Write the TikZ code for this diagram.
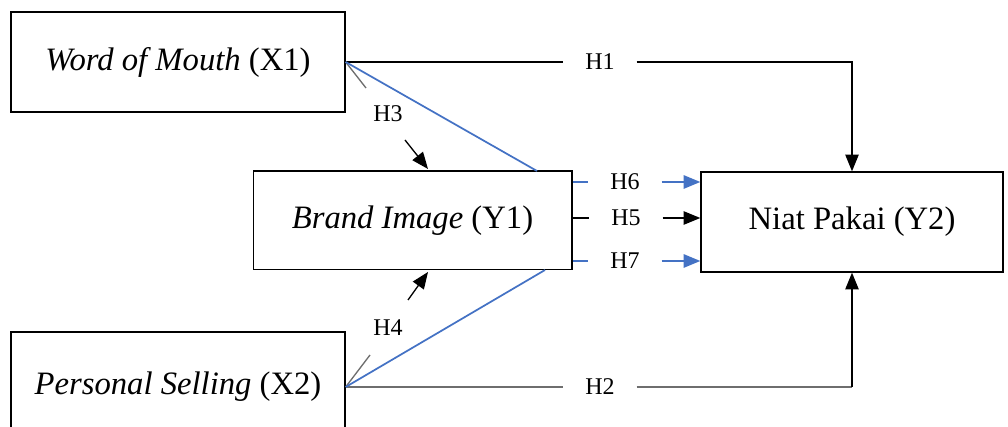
\documentclass[tikz,border=0pt]{standalone}
\usepackage{fontspec}
\setmainfont{Liberation Serif}
\usetikzlibrary{arrows.meta,calc}

\definecolor{hblue}{RGB}{68,114,196}
\definecolor{hgray}{RGB}{110,110,110}

\tikzset{every picture/.style={line width=1pt}}
\tikzset{
  varbox/.style={draw, minimum width=#1, minimum height=75pt, inner sep=0pt, font=\fontsize{24.5}{29}\selectfont},
  hlabel/.style={inner sep=0pt, minimum width=54pt, minimum height=14pt, font=\fontsize{18}{21}\selectfont},
  tip/.style={-{Triangle[length=12.5pt,width=10pt]}},
  bluepath/.style={hblue, line width=1.3pt}
}

\begin{document}
\begin{tikzpicture}[x=0.75pt,y=0.75pt,yscale=-1,xscale=1]
\clip (0,0) rectangle (1008,427);

% Variables
\node [varbox=250.5pt] (wom) at (178,62) {\textit{Word of Mouth} (X1)};
\node [varbox=239pt, minimum height=74pt] (bi) at (412.5,220.5) {\textit{Brand Image} (Y1)};
\node [varbox=226.5pt] (niat) at (852,222) {Niat Pakai (Y2)};
\node [varbox=250.5pt, minimum height=82.5pt] (ps) at (178,387) {\textit{Personal Selling} (X2)};

% Hypothesis labels
\node [hlabel] (h1) at (600,62) {H1};
\node [hlabel] (h2) at (600,387) {H2};
\node [hlabel, minimum width=24pt] (h3) at (388,114) {H3};
\node [hlabel, minimum width=24pt] (h4) at (388,328) {H4};
\node [hlabel] (h5) at (626,218) {H5};
\node [hlabel] (h6) at (625,182) {H6};
\node [hlabel] (h7) at (625,261) {H7};

% Helper points
\coordinate (h3s) at (366,88);
\coordinate (h3a) at (405,140);
\coordinate (h3b) at (428,169);
\coordinate (h4s) at (370,355);
\coordinate (h4a) at (408,300);
\coordinate (h4b) at (428,272);
\coordinate (bitop) at (537,171);
\coordinate (bibot) at (545,270);

% H1
\draw (wom.east) -- (h1.west);
\draw [tip] (h1.east) -| (niat.north);
% H2
\draw [hgray] (ps.east) -- (h2.west);
\draw [hgray] (h2.east) -- (niat.south |- h2);
\draw [tip] (niat.south |- h2) -- (niat.south);
% H3
\draw [hgray] (wom.east) -- (h3s);
\draw [tip] (h3a) -- (h3b);
% H4
\draw [hgray] (ps.east) -- (h4s);
\draw [tip] (h4a) -- (h4b);
% Mediation paths
\draw [bluepath] (wom.east) -- (bitop);
\draw [bluepath] (ps.east) -- (bibot);
% H5
\draw (bi.east |- h5) -- (h5.west);
\draw [tip] (h5.east) -- (niat.west |- h5);
% H6
\draw [bluepath] (bi.east |- h6) -- (h6.west);
\draw [bluepath, tip] (h6.east) -- (niat.west |- h6);
% H7
\draw [bluepath] (bi.east |- h7) -- (h7.west);
\draw [bluepath, tip] (h7.east) -- (niat.west |- h7);

\end{tikzpicture}
\end{document}
